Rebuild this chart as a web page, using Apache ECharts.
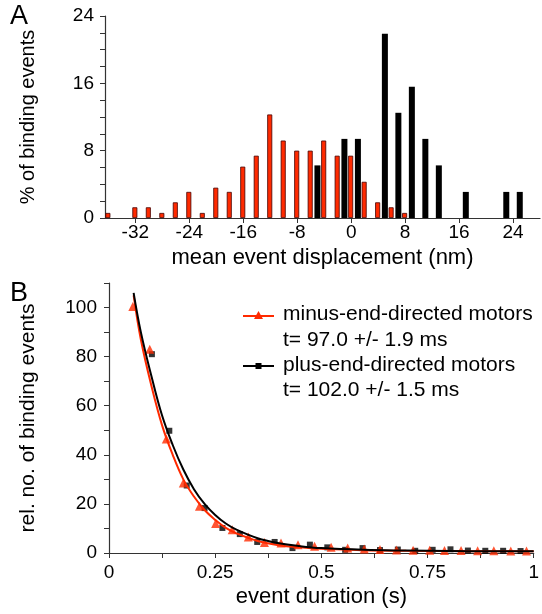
<!DOCTYPE html>
<html>
<head>
<meta charset="utf-8">
<script src="https://cdn.jsdelivr.net/npm/echarts@6/dist/echarts.min.js"></script>
<style>
html, body { margin: 0; padding: 0; background: #fff; }
#main { width: 542px; height: 614px; }
</style>
</head>
<body>
<div id="main"></div>
<script>
// panel A: histogram of mean displacement (% of binding events)
var minusBinX = [-36, -32, -30, -28, -26, -24, -22, -20, -18, -16, -14, -12, -10, -8, -6, -4, -2, 0, 2, 4, 6, 8];
var minusPct  = [0.6, 1.27, 1.27, 0.6, 1.86, 3.1, 0.6, 3.6, 3.1, 6.1, 7.4, 12.3, 9.2, 8.0, 8.0, 9.2, 7.4, 7.4, 4.3, 1.86, 1.27, 0.6];
var plusBinX  = [-5, -1, 1, 5, 7, 9, 11, 13, 17, 23, 25];
var plusPct   = [6.25, 9.4, 9.4, 21.9, 12.5, 15.6, 9.4, 6.25, 3.1, 3.1, 3.1];
var histTicks = [-32, -24, -16, -8, 0, 8, 16, 24];

// panel B: event duration distributions
var durMinusX = [0.056, 0.096, 0.135, 0.175, 0.213, 0.251, 0.29, 0.328, 0.366, 0.405, 0.445, 0.484, 0.523, 0.562, 0.601, 0.638, 0.677, 0.716, 0.755, 0.79, 0.829, 0.868, 0.906, 0.946, 0.983];
var durMinusY = [100.4, 83, 46.4, 28.5, 19, 12, 9.5, 6.5, 4.3, 4.1, 3.4, 2.7, 2.3, 2.0, 1.6, 1.4, 1.2, 1.1, 1.1, 1.0, 1.0, 0.9, 0.9, 0.8, 0.8];
var durPlusX  = [0.101, 0.142, 0.183, 0.225, 0.267, 0.308, 0.349, 0.39, 0.432, 0.473, 0.514, 0.556, 0.597, 0.638, 0.68, 0.721, 0.762, 0.804, 0.845, 0.886, 0.928, 0.969];
var durPlusY  = [81, 49.8, 27.5, 18.3, 10.2, 7.7, 4.5, 4.5, 2.0, 3.4, 2.3, 1.3, 2.0, 1.2, 1.4, 0.9, 1.3, 1.5, 1.0, 0.9, 0.9, 0.8];

// fitted curves
var fitX      = [0.058, 0.075, 0.1, 0.125, 0.15, 0.175, 0.2, 0.225, 0.25, 0.275, 0.3, 0.35, 0.4, 0.45, 0.5, 0.6, 0.7, 0.8, 0.9, 1.0];
var fitMinusY = [105, 87, 68, 52, 40, 30, 23, 17.5, 13.5, 10.2, 8, 4.9, 3.2, 2.3, 1.7, 1.1, 0.9, 0.8, 0.7, 0.7];
var fitPlusY  = [106, 90, 72, 56, 44, 34, 26, 20, 15.5, 12, 9.5, 6, 4, 2.8, 2, 1.3, 1, 0.8, 0.7, 0.7];

var legendNames = ['minus-end-directed motors', 't= 97.0 +/- 1.9 ms', 'plus-end-directed motors', 't= 102.0 +/- 1.5 ms'];

function pairs(xs, ys) {
    return xs.map(function (x, i) { return [x, ys[i]]; });
}

var FONT = 'Liberation Sans';
var RED = '#ff2a00';
var tickStyle = { color: '#333' };
var nameStyle = { color: '#000', fontSize: 22, fontFamily: FONT };
var LBL = 19;

var dom = document.getElementById('main');
var myChart = echarts.init(dom);

var option = {
    animation: false,
    backgroundColor: '#fff',
    grid: [
        { left: 105, right: 2, top: 16, bottom: 396 },
        { left: 109, right: 5, top: 283, bottom: 61 }
    ],
    xAxis: [
        {
            gridIndex: 0, type: 'value', min: -36.5, max: 28,
            axisLine: { onZero: false, lineStyle: { color: '#333', width: 1.2 } },
            axisTick: { length: 5, lineStyle: tickStyle, customValues: histTicks },
            splitLine: { show: false },
            axisLabel: { color: '#000', fontSize: LBL, fontFamily: FONT, margin: 5, customValues: histTicks },
            name: 'mean event displacement (nm)', nameLocation: 'middle', nameGap: 29,
            nameTextStyle: nameStyle
        },
        {
            gridIndex: 1, type: 'value', min: 0, max: 1, interval: 0.25,
            axisLine: { onZero: false, lineStyle: { color: '#333', width: 1.2 } },
            axisTick: { length: 5, lineStyle: tickStyle },
            minorTick: { show: true, splitNumber: 2, length: 5, lineStyle: tickStyle },
            splitLine: { show: false },
            axisLabel: { color: '#000', fontSize: LBL, fontFamily: FONT, margin: 10 },
            name: 'event duration (s)', nameLocation: 'middle', nameGap: 33,
            nameTextStyle: nameStyle
        }
    ],
    yAxis: [
        {
            gridIndex: 0, type: 'value', min: 0, max: 24, interval: 8,
            axisLine: { show: true, onZero: false, lineStyle: { color: '#333', width: 1.2 } },
            axisTick: { show: true, length: 5, lineStyle: tickStyle },
            minorTick: { show: true, splitNumber: 4, length: 5, lineStyle: tickStyle },
            splitLine: { show: false },
            axisLabel: { color: '#000', fontSize: LBL, fontFamily: FONT, margin: 11 },
            name: '% of binding events', nameLocation: 'middle', nameGap: 67,
            nameTextStyle: { color: '#000', fontSize: 20, fontFamily: FONT }
        },
        {
            gridIndex: 1, type: 'value', min: 0, max: 110, interval: 20,
            axisLine: { show: true, onZero: false, lineStyle: { color: '#333', width: 1.2 } },
            axisTick: { show: true, length: 5, lineStyle: tickStyle },
            minorTick: { show: true, splitNumber: 2, length: 5, lineStyle: tickStyle },
            splitLine: { show: false },
            axisLabel: { color: '#000', fontSize: LBL, fontFamily: FONT, margin: 12, showMaxLabel: false },
            name: 'rel. no. of binding events', nameLocation: 'middle', nameGap: 70,
            nameTextStyle: { color: '#000', fontSize: 21, fontFamily: FONT }
        }
    ],
    series: [
        {
            name: 'minus', type: 'bar', xAxisIndex: 0, yAxisIndex: 0,
            data: pairs(minusBinX, minusPct),
            barWidth: 5, barGap: '-100%',
            itemStyle: { color: RED, borderColor: '#400', borderWidth: 0.8 }
        },
        {
            name: 'plus', type: 'bar', xAxisIndex: 0, yAxisIndex: 0,
            data: pairs(plusBinX, plusPct),
            barWidth: 6, barGap: '-100%',
            itemStyle: { color: '#000' }
        },
        {
            name: 'fit minus', type: 'line', xAxisIndex: 1, yAxisIndex: 1,
            data: pairs(fitX, fitMinusY), smooth: 0.4, showSymbol: false,
            lineStyle: { color: RED, width: 2 }
        },
        {
            name: 'fit plus', type: 'line', xAxisIndex: 1, yAxisIndex: 1,
            data: pairs(fitX, fitPlusY), smooth: 0.4, showSymbol: false,
            lineStyle: { color: '#000', width: 2 }
        },
        {
            name: 'plus points', type: 'scatter', xAxisIndex: 1, yAxisIndex: 1,
            data: pairs(durPlusX, durPlusY), symbol: 'rect', symbolSize: 6,
            itemStyle: { color: '#000' }
        },
        {
            name: 'minus points', type: 'scatter', xAxisIndex: 1, yAxisIndex: 1,
            data: pairs(durMinusX, durMinusY), symbol: 'triangle', symbolSize: 9,
            itemStyle: { color: RED }
        }
    ],
    graphic: [
        { type: 'text', left: 10, top: 3, style: { text: 'A', fontSize: 27, fontFamily: FONT, fill: '#000' } },
        { type: 'text', left: 10, top: 280, style: { text: 'B', fontSize: 27, fontFamily: FONT, fill: '#000' } },
        { type: 'line', shape: { x1: 243, y1: 316, x2: 274, y2: 316 }, style: { stroke: RED, lineWidth: 2 } },
        { type: 'polygon', shape: { points: [[258.5, 311], [263, 319], [254, 319]] }, style: { fill: RED } },
        { type: 'line', shape: { x1: 243, y1: 366, x2: 274, y2: 366 }, style: { stroke: '#000', lineWidth: 2 } },
        { type: 'rect', shape: { x: 255.5, y: 363, width: 6, height: 6 }, style: { fill: '#000' } },
        { type: 'text', left: 283, top: 304, style: { text: legendNames[0], fontSize: 21, fontFamily: FONT, fill: '#000' } },
        { type: 'text', left: 283, top: 330, style: { text: legendNames[1], fontSize: 21, fontFamily: FONT, fill: '#000' } },
        { type: 'text', left: 283, top: 355, style: { text: legendNames[2], fontSize: 21, fontFamily: FONT, fill: '#000' } },
        { type: 'text', left: 283, top: 380, style: { text: legendNames[3], fontSize: 21, fontFamily: FONT, fill: '#000' } }
    ]
};

myChart.setOption(option);
</script>
</body>
</html>
